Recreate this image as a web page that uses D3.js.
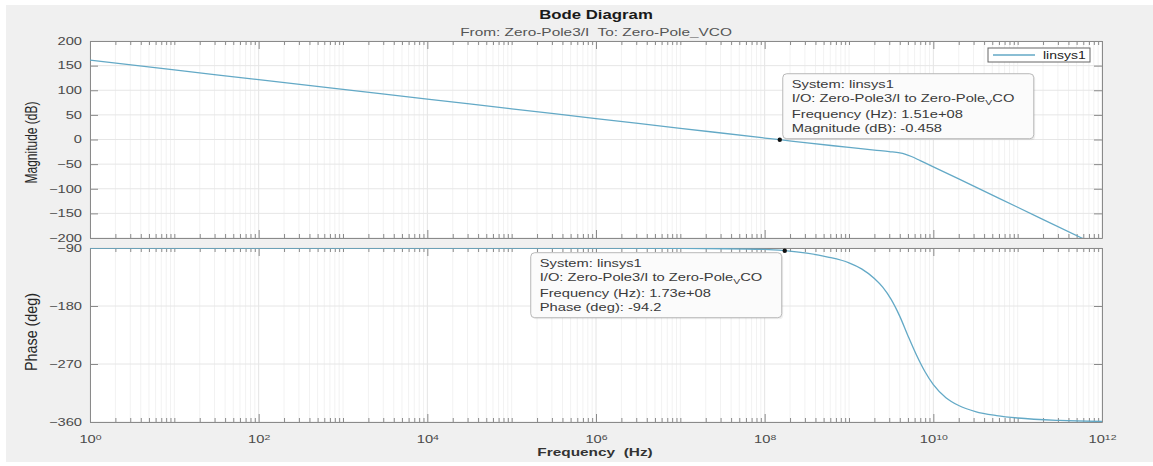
<!DOCTYPE html>
<html>
<head>
<meta charset="utf-8">
<title>Bode Diagram</title>
<script src="https://cdn.jsdelivr.net/npm/d3@7"></script>
<style>
  body { margin: 0; background: #fff; }
  svg { display: block; font-family: "Liberation Sans", Arial, sans-serif; }
  svg text { white-space: pre; }
</style>
</head>
<body>
<div id="container"></div>
<script>
  // Values.
  const magFreq = [1, 10, 100, 1e3, 1e4, 1e5, 1e6, 1e7, 1e8, 1.51e8, 3e8, 1e9, 2e9, 3e9, 4e9, 4.6e9, 5.5e9, 7e9, 1e10, 2e10, 1e11, 5.75e11, 1e12];
  const magDb   = [161, 141.3, 121.5, 101.8, 82, 62.3, 42.5, 22.8, 3, -0.458, -6.5, -16, -21.5, -24.5, -27, -29.5, -34.5, -43, -55.5, -80, -137.5, -200, -219.5];

  const phaseFreq = [1, 1e6, 1e7, 1e8, 1.73e8, 3.16e8, 5.62e8, 1e9, 1.41e9, 2e9, 2.51e9, 3.16e9, 3.98e9, 5.01e9, 6.31e9, 7.94e9, 1e10, 1.41e10, 2e10, 3.16e10, 5.62e10, 1e11, 3.16e11, 1e12];
  const phaseDeg  = [-90, -90.05, -90.4, -92.2, -94.2, -98.1, -104, -113, -122.4, -137.3, -150.8, -169.7, -195.3, -226.4, -256.1, -281.7, -302, -322.2, -334.4, -343.8, -350, -353.8, -357.6, -359.2];

  const xTickExp = [0, 2, 4, 6, 8, 10, 12];
  const magTicks = [200, 150, 100, 50, 0, -50, -100, -150, -200];
  const phaseTicks = [-90, -180, -270, -360];

  // Data tips: [frequency, value]
  const magTip = [1.51e8, -0.458];
  const phaseTip = [1.73e8, -94.2];

  // Layout
  const width = 1153;
  const height = 466;
  const left = 90, right = 1102;
  const magTop = 41, magBottom = 238;
  const phTop = 248, phBottom = 422;
  const SX = 1.4;               // the screenshot is stretched sideways
  const lineColor = "#63a9c6";
  const axisColor = "#8a8a8a";
  const textColor = "#4a4a4a";

  const x = d3.scaleLog().domain([1, 1e12]).range([left, right]);
  const yMag = d3.scaleLinear().domain([-200, 200]).range([magBottom, magTop]);
  const yPh = d3.scaleLinear().domain([-360, -90]).range([phBottom, phTop]);

  const xMajor = xTickExp.map(e => Math.pow(10, e));
  const xMinor = [];
  for (let e = 0; e < 12; e++) {
    for (let k = 1; k <= 9; k++) {
      if (k === 1 && e % 2 === 0) continue;
      xMinor.push(k * Math.pow(10, e));
    }
  }

  const svg = d3.create("svg")
      .attr("width", width)
      .attr("height", height);

  // Figure background.
  svg.append("rect")
      .attr("x", 6).attr("y", 5)
      .attr("width", width - 6).attr("height", 457)
      .attr("fill", "#f0f0f0");

  // Stretched text helper.
  function label(g, px, py, str, size, opts = {}) {
    return g.append("text")
        .attr("transform", `translate(${px},${py}) scale(${SX},1)`)
        .attr("text-anchor", opts.anchor || "middle")
        .attr("font-size", size)
        .attr("font-weight", opts.weight || "normal")
        .attr("fill", opts.color || "#262626")
        .text(str);
  }

  function stretchTicks(g) {
    g.selectAll(".tick text").each(function() {
      const t = d3.select(this);
      const tx = +t.attr("x") || 0;
      const ty = +t.attr("y") || 0;
      t.attr("x", 0).attr("y", 0)
       .attr("transform", `translate(${tx},${ty}) scale(${SX},1)`);
    });
  }

  function panel(y, yTicks, showXLabels, clipId) {
    const [y0, y1] = y.range();
    const g = svg.append("g");

    g.append("rect")
        .attr("x", left).attr("y", y1)
        .attr("width", right - left).attr("height", y0 - y1)
        .attr("fill", "#fff");

    // Grid.
    g.append("g").selectAll("line").data(xMinor).join("line")
        .attr("x1", d => x(d)).attr("x2", d => x(d))
        .attr("y1", y1).attr("y2", y0)
        .attr("stroke", "#f2f2f2");
    g.append("g").selectAll("line").data(xMajor).join("line")
        .attr("x1", d => x(d)).attr("x2", d => x(d))
        .attr("y1", y1).attr("y2", y0)
        .attr("stroke", "#e4e4e4");
    g.append("g").selectAll("line").data(yTicks).join("line")
        .attr("x1", left).attr("x2", right)
        .attr("y1", d => y(d)).attr("y2", d => y(d))
        .attr("stroke", "#e6e6e6");

    g.append("clipPath").attr("id", clipId)
      .append("rect")
        .attr("x", left).attr("y", y1)
        .attr("width", right - left).attr("height", y0 - y1);

    // Axes, ticks pointing inward.
    const bottom = g.append("g")
        .attr("transform", `translate(0,${y0})`)
        .call(d3.axisBottom(x).tickValues(xMajor).tickSize(-8).tickSizeOuter(0)
              .tickPadding(14).tickFormat(showXLabels ? (d => d) : ""));
    g.append("g")
        .attr("transform", `translate(0,${y0})`)
        .call(d3.axisBottom(x).tickValues(xMinor).tickSize(-4).tickFormat(""))
        .call(a => a.select(".domain").remove());
    g.append("g")
        .attr("transform", `translate(0,${y1})`)
        .call(d3.axisTop(x).tickValues(xMajor).tickSize(-8).tickSizeOuter(0).tickFormat(""));
    g.append("g")
        .attr("transform", `translate(0,${y1})`)
        .call(d3.axisTop(x).tickValues(xMinor).tickSize(-4).tickFormat(""))
        .call(a => a.select(".domain").remove());
    const leftAx = g.append("g")
        .attr("transform", `translate(${left},0)`)
        .call(d3.axisLeft(y).tickValues(yTicks).tickSize(-8).tickSizeOuter(0).tickPadding(8));
    g.append("g")
        .attr("transform", `translate(${right},0)`)
        .call(d3.axisRight(y).tickValues(yTicks).tickSize(-8).tickSizeOuter(0).tickFormat(""));

    g.selectAll(".domain").attr("stroke", axisColor);
    g.selectAll(".tick line").attr("stroke", axisColor);
    g.selectAll("g").attr("font-family", null).attr("font-size", 10.5);
    g.selectAll(".tick text").attr("fill", textColor);

    stretchTicks(leftAx);

    if (showXLabels) {
      bottom.selectAll(".tick text").each(function(d) {
        const t = d3.select(this).text("");
        t.append("tspan").text("10");
        t.append("tspan")
            .attr("dy", "-0.45em")
            .attr("font-size", 7.5)
            .text(Math.round(Math.log10(d)));
      });
      stretchTicks(bottom);
    }
    return g;
  }

  const magG = panel(yMag, magTicks, false, "clipMag");
  const phG = panel(yPh, phaseTicks, true, "clipPh");

  // Curves.
  const magLine = d3.line()
      .x(i => x(magFreq[i]))
      .y(i => yMag(magDb[i]))
      .curve(d3.curveMonotoneX);
  magG.append("path")
      .attr("clip-path", "url(#clipMag)")
      .attr("d", magLine(d3.range(magFreq.length)))
      .attr("fill", "none")
      .attr("stroke", lineColor)
      .attr("stroke-width", 1.3);

  const phLine = d3.line()
      .x(i => x(phaseFreq[i]))
      .y(i => yPh(phaseDeg[i]))
      .curve(d3.curveMonotoneX);
  phG.append("path")
      .attr("clip-path", "url(#clipPh)")
      .attr("d", phLine(d3.range(phaseFreq.length)))
      .attr("fill", "none")
      .attr("stroke", lineColor)
      .attr("stroke-width", 1.3);

  // Titles and axis labels.
  label(svg, 596, 18.5, "Bode Diagram", 12, { weight: "bold", color: "#1a1a1a" });
  label(svg, 596, 35.5, "From: Zero-Pole3/I  To: Zero-Pole_VCO", 11, { color: "#555" });
  label(svg, 595, 456, "Frequency  (Hz)", 11, { weight: "bold", color: "#333" });

  svg.append("text")
      .attr("transform", `translate(37,${(magTop + magBottom) / 2 + 3}) rotate(-90) scale(1,${SX})`)
      .attr("text-anchor", "middle")
      .attr("font-size", 12)
      .attr("fill", "#262626")
      .text("Magnitude (dB)");
  svg.append("text")
      .attr("transform", `translate(37,${(phTop + phBottom) / 2 - 3}) rotate(-90) scale(1,${SX})`)
      .attr("text-anchor", "middle")
      .attr("font-size", 12)
      .attr("textLength", 78)
      .attr("lengthAdjust", "spacingAndGlyphs")
      .attr("fill", "#262626")
      .text("Phase (deg)");

  // Legend.
  const leg = svg.append("g").attr("transform", "translate(988,48)");
  leg.append("rect")
      .attr("width", 102).attr("height", 14)
      .attr("fill", "#fff").attr("stroke", "#666");
  leg.append("line")
      .attr("x1", 5).attr("x2", 47).attr("y1", 7).attr("y2", 7)
      .attr("stroke", lineColor).attr("stroke-width", 1.3);
  label(leg, 55, 10.5, "linsys1", 10, { anchor: "start", color: "#222" });

  // Data tips.
  function dataTip(px, py, bx, by, lastLine) {
    const g = svg.append("g").attr("transform", `translate(${bx},${by})`);
    g.append("rect")
        .attr("x", 1.5).attr("y", 1.5)
        .attr("width", 251).attr("height", 65).attr("rx", 4)
        .attr("fill", "#000").attr("opacity", 0.06);
    g.append("rect")
        .attr("width", 251).attr("height", 65).attr("rx", 4)
        .attr("fill", "#fbfbfb").attr("stroke", "#b8b8b8");
    const lines = [
      [14, "System: linsys1"],
      [28.5, null],
      [44, lastLine[0]],
      [58.5, lastLine[1]]
    ];
    lines.forEach(([ly, str]) => {
      const t = label(g, 9, ly, str || "", 10.5, { anchor: "start", color: "#3a3a3a" });
      if (!str) {
        t.append("tspan").text("I/O: Zero-Pole3/I to Zero-Pole");
        t.append("tspan").attr("dy", 3).attr("font-size", 7.5).text("V");
        t.append("tspan").attr("dy", -3).text("CO");
      }
    });
    svg.append("circle")
        .attr("cx", px).attr("cy", py).attr("r", 2.2)
        .attr("fill", "#111");
  }

  const p1 = [x(magTip[0]), yMag(magTip[1])];
  dataTip(p1[0], p1[1], p1[0] + 3, p1[1] - 66,
          ["Frequency (Hz): 1.51e+08", "Magnitude (dB): -0.458"]);
  const p2 = [x(phaseTip[0]), yPh(phaseTip[1])];
  dataTip(p2[0], p2[1], p2[0] - 254, p2[1] + 2,
          ["Frequency (Hz): 1.73e+08", "Phase (deg): -94.2"]);

  document.getElementById("container").append(svg.node());
</script>
</body>
</html>
